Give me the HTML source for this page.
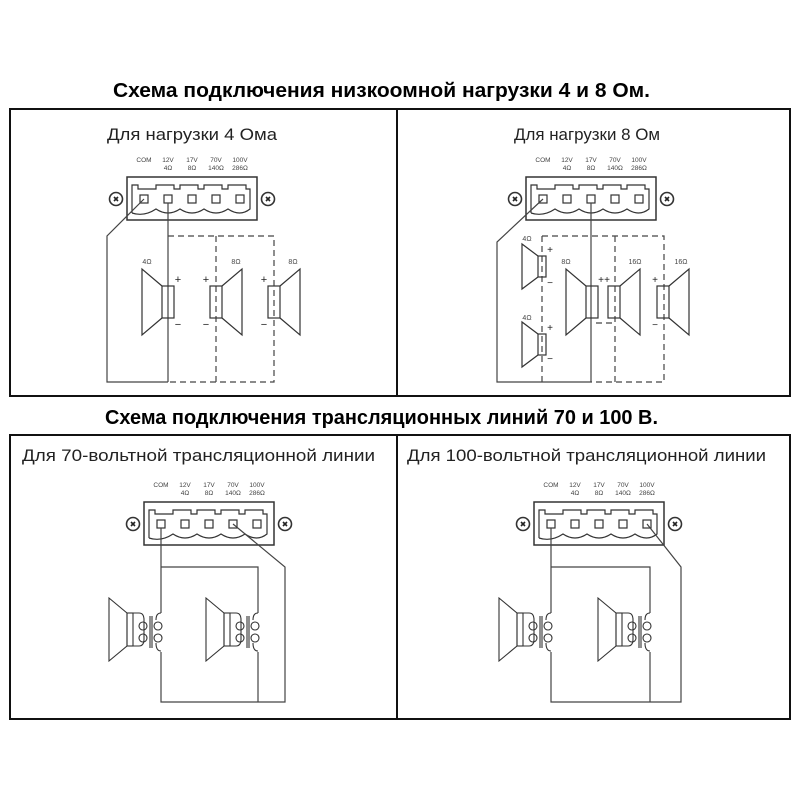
<!DOCTYPE html>
<html><head><meta charset="utf-8"><style>
html,body{margin:0;padding:0;background:#fff}
svg{display:block}
.t{font-family:"Liberation Sans","DejaVu Sans",sans-serif}
</style></head><body>
<svg width="800" height="800" viewBox="0 0 800 800" xmlns="http://www.w3.org/2000/svg">
<defs>
<g id="blk">
 <g class="t" font-size="6.5" fill="#444" text-anchor="middle">
  <text x="0" y="-37">COM</text>
  <text x="24" y="-37">12V</text><text x="24" y="-29">4Ω</text>
  <text x="48" y="-37">17V</text><text x="48" y="-29">8Ω</text>
  <text x="72" y="-37">70V</text><text x="72" y="-29">140Ω</text>
  <text x="96" y="-37">100V</text><text x="96" y="-29">286Ω</text>
 </g>
 <rect x="-17" y="-22" width="130" height="43" fill="none" stroke="#333" stroke-width="1.5"/>
 <path d="M-12 14 V-14 H-6 V-10 H12 V-14 H30 V-10 H36 V-14 H54 V-10 H60 V-14 H78 V-10 H84 V-14 H102 V-10 H106 V10 Q96 18 84 10 Q72 18 60 10 Q48 18 36 10 Q24 18 12 10 Q0 18 -12 14" fill="none" stroke="#333" stroke-width="1.2"/>
 <g fill="none" stroke="#333" stroke-width="1.2">
  <rect x="-4" y="-4" width="8" height="8"/><rect x="20" y="-4" width="8" height="8"/><rect x="44" y="-4" width="8" height="8"/><rect x="68" y="-4" width="8" height="8"/><rect x="92" y="-4" width="8" height="8"/>
  <circle cx="-28" cy="0" r="6.5" stroke-width="1.6"/><circle cx="124" cy="0" r="6.5" stroke-width="1.6"/>
 </g>
 <g stroke="#222" stroke-width="1.6"><path d="M-30 -2 L-26 2 M-26 -2 L-30 2 M122 -2 L126 2 M126 -2 L122 2"/></g>
</g>
<g id="spkL" fill="none" stroke="#333" stroke-width="1.2">
 <rect x="0" y="0" width="12" height="32"/>
 <path d="M0 0 L-20 -17 V49 L0 32"/>
</g>
<g id="spkR" fill="none" stroke="#333" stroke-width="1.2">
 <rect x="0" y="0" width="12" height="32"/>
 <path d="M12 0 L32 -17 V49 L12 32"/>
</g>
<g id="spkS" fill="none" stroke="#333" stroke-width="1.2">
 <rect x="0" y="0" width="8" height="21"/>
 <path d="M0 0 L-16 -12 V33 L0 21"/>
</g>
<g id="tspk" fill="none" stroke="#333" stroke-width="1.1">
 <path d="M-34 -13 L-52 -28 V35 L-34 20 Z"/>
 <rect x="-34" y="-13" width="6" height="33"/>
 <path d="M-28 -13 H-22 Q-17 -13 -17 -6 V13 Q-17 20 -22 20 H-28"/>
 <circle cx="-18" cy="0" r="4"/><circle cx="-18" cy="12" r="4"/>
 <line x1="-11" y1="-10" x2="-11" y2="22"/><line x1="-9" y1="-10" x2="-9" y2="22"/>
 <circle cx="-3" cy="0" r="4"/><circle cx="-3" cy="12" r="4"/>
 <path d="M0 -13 Q-5 -13 -5 -6 M0 25 Q-5 25 -5 17"/>
</g>
</defs>

<g class="t" font-weight="bold" font-size="20" fill="#000">
 <text x="113" y="97" textLength="537" lengthAdjust="spacingAndGlyphs">Схема подключения низкоомной нагрузки 4 и 8 Ом.</text>
 <text x="105" y="424" textLength="553" lengthAdjust="spacingAndGlyphs">Схема подключения трансляционных линий 70 и 100 В.</text>
</g>

<g fill="none" stroke="#111" stroke-width="2">
 <rect x="10" y="109" width="780" height="287"/>
 <line x1="397" y1="109" x2="397" y2="396"/>
 <rect x="10" y="435" width="780" height="284"/>
 <line x1="397" y1="435" x2="397" y2="719"/>
</g>

<g class="t" font-size="17" fill="#222">
 <text x="107" y="140" textLength="170" lengthAdjust="spacingAndGlyphs">Для нагрузки 4 Ома</text>
 <text x="514" y="140" textLength="146" lengthAdjust="spacingAndGlyphs">Для нагрузки 8 Ом</text>
 <text x="22" y="461" textLength="353" lengthAdjust="spacingAndGlyphs">Для 70-вольтной трансляционной линии</text>
 <text x="407" y="461" textLength="359" lengthAdjust="spacingAndGlyphs">Для 100-вольтной трансляционной линии</text>
</g>

<use href="#blk" x="144" y="199"/>
<g fill="none" stroke="#444" stroke-width="1.2">
 <path d="M144 199 L107 236 V382 H168"/>
 <path d="M168 203 V382"/>
 <path d="M168 236 H274 V382 H168 M216 236 V382" stroke-dasharray="6 4"/>
</g>
<use href="#spkL" x="162" y="286"/>
<use href="#spkR" x="210" y="286"/>
<use href="#spkR" x="268" y="286"/>
<g class="t" font-size="7" fill="#444" text-anchor="middle">
 <text x="147" y="264">4Ω</text><text x="236" y="264">8Ω</text><text x="293" y="264">8Ω</text>
</g>
<g class="t" font-size="11" fill="#222" text-anchor="middle">
 <text x="178" y="283">+</text><text x="206" y="283">+</text><text x="264" y="283">+</text>
 <text x="178" y="328">−</text><text x="206" y="328">−</text><text x="264" y="328">−</text>
</g>

<use href="#blk" x="543" y="199"/>
<g fill="none" stroke="#444" stroke-width="1.2">
 <path d="M543 199 L497 242 V382 H591"/>
 <path d="M591 203 V382"/>
 <path d="M542 236 H664 V382 H591 M542 236 V382 M615 236 V382 M596 323 H614" stroke-dasharray="6 4"/>
</g>
<use href="#spkS" x="538" y="256"/>
<use href="#spkS" x="538" y="334"/>
<use href="#spkL" x="586" y="286"/>
<use href="#spkR" x="608" y="286"/>
<use href="#spkR" x="657" y="286"/>
<g class="t" font-size="7" fill="#444" text-anchor="middle">
 <text x="527" y="241">4Ω</text><text x="527" y="320">4Ω</text><text x="566" y="264">8Ω</text><text x="635" y="264">16Ω</text><text x="681" y="264">16Ω</text>
</g>
<g class="t" font-size="10" fill="#222" text-anchor="middle">
 <text x="550" y="253">+</text><text x="550" y="331">+</text><text x="550" y="286">−</text><text x="550" y="362">−</text>
 <text x="601" y="283">+</text><text x="607" y="283">+</text><text x="655" y="283">+</text><text x="655" y="328">−</text>
</g>

<use href="#blk" x="161" y="524"/>
<g fill="none" stroke="#444" stroke-width="1.2">
 <path d="M161 528 V613 M161 652 V702 H285 V567 L233 524 M161 567 H258 V613 M258 652 V702"/>
</g>
<use href="#tspk" x="161" y="626"/>
<use href="#tspk" x="258" y="626"/>

<use href="#blk" x="551" y="524"/>
<g fill="none" stroke="#444" stroke-width="1.2">
 <path d="M551 528 V613 M551 652 V702 H681 V567 L647 524 M551 567 H650 V613 M650 652 V702"/>
</g>
<use href="#tspk" x="551" y="626"/>
<use href="#tspk" x="650" y="626"/>
</svg>
</body></html>
